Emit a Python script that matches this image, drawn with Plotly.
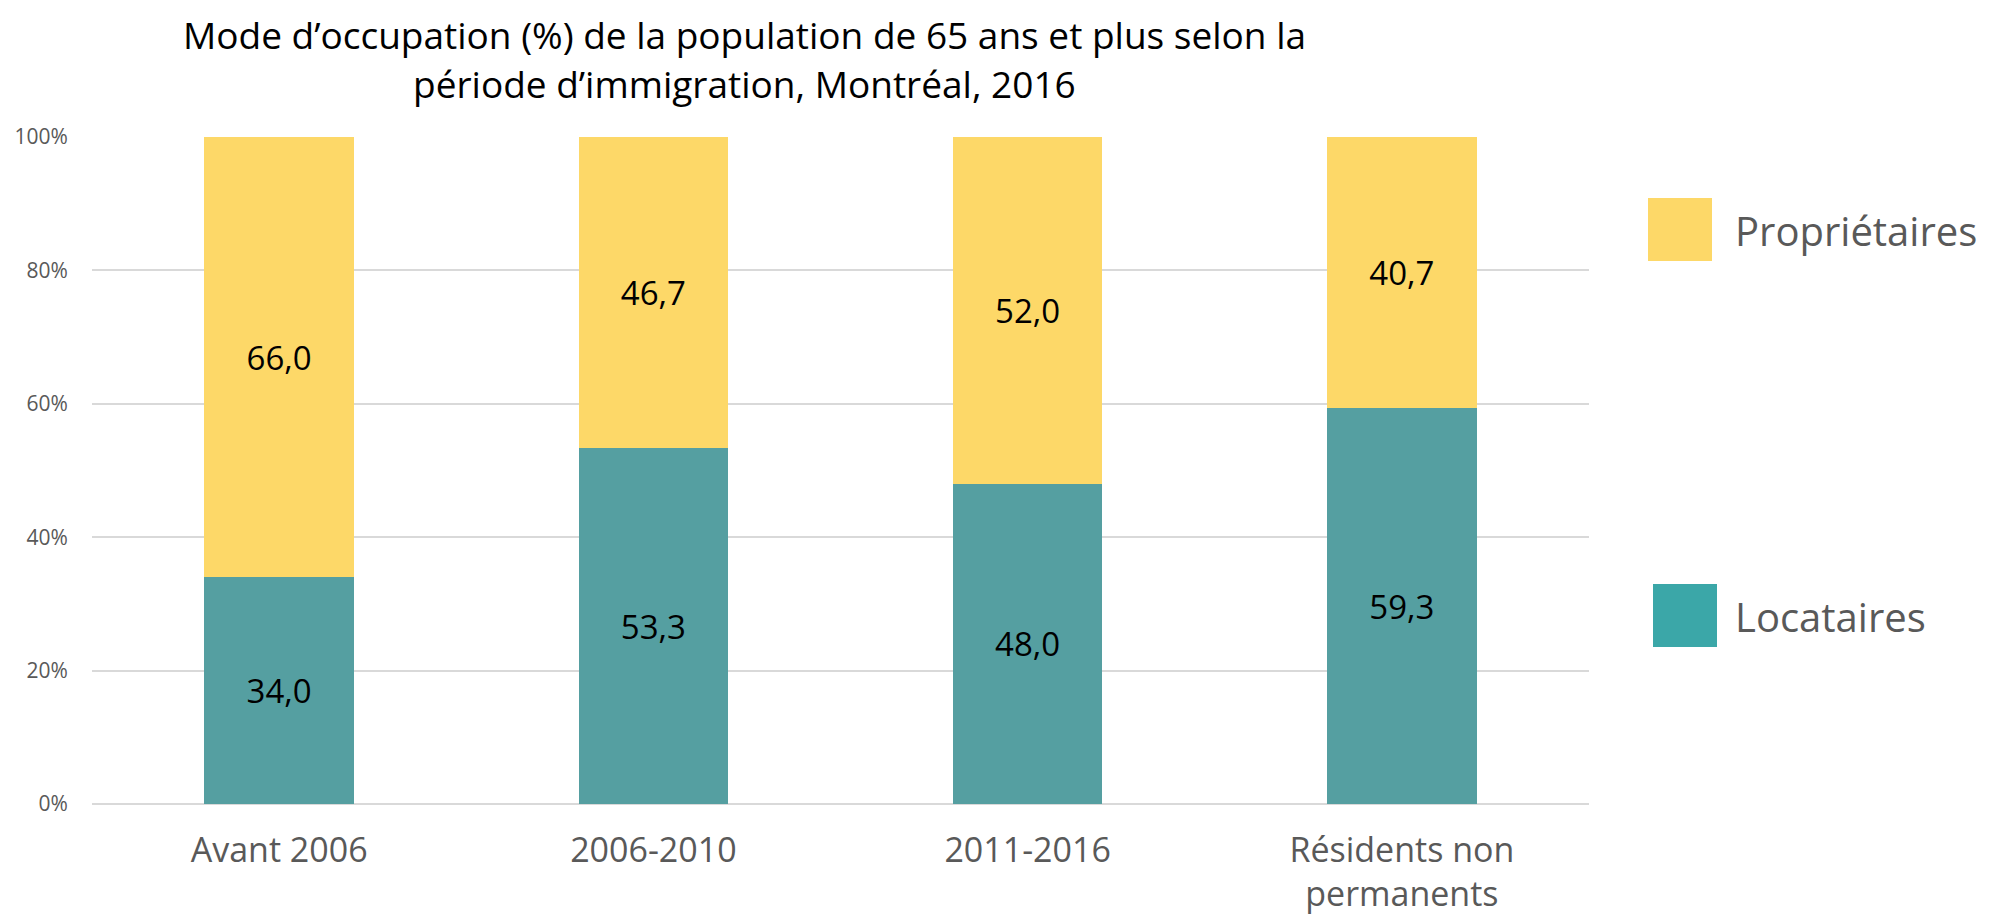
import plotly.graph_objects as go

categories = ["Avant 2006", "2006-2010", "2011-2016", "Résidents non<br>permanents"]
locataires = [34.0, 53.3, 48.0, 59.3]
proprietaires = [66.0, 46.7, 52.0, 40.7]
tick_vals = [0, 20, 40, 60, 80, 100]
tick_text = ["0%", "20%", "40%", "60%", "80%", "100%"]

# page body has an 8px margin: figure coordinates = screen coordinates - 8
OFF = 8
W, H = 1977, 908
ML = 92 - OFF
MT = 137 - OFF
MR = W - (1589 - OFF)
MB = H - (804 - OFF)
PW, PH = W - ML - MR, H - MT - MB


def px(xs):  # screen x -> paper
    return (xs - OFF - ML) / PW


def py(ys):  # screen y -> paper
    return 1 - (ys - OFF - MT) / PH


FONT = "Open Sans"
GREY = "#595959"

fig = go.Figure()
fig.add_trace(go.Bar(
    x=categories, y=locataires, name="Locataires",
    marker=dict(color="#559FA1", line=dict(width=0)),
    text=[f"{v:.1f}".replace(".", ",") for v in locataires],
    textposition="inside", insidetextanchor="middle",
    textfont=dict(family=FONT, size=33, color="#000000"),
    showlegend=False,
))
fig.add_trace(go.Bar(
    x=categories, y=proprietaires, name="Propriétaires",
    marker=dict(color="#FDD868", line=dict(width=0)),
    text=[f"{v:.1f}".replace(".", ",") for v in proprietaires],
    textposition="inside", insidetextanchor="middle",
    textfont=dict(family=FONT, size=33, color="#000000"),
    showlegend=False,
))

shapes = []
annotations = []
legend_items = [("Propriétaires", "#FDD868", 1648, 198), ("Locataires", "#3BA7A8", 1653, 584)]
for name, col, x0, y0 in legend_items:
    shapes.append(dict(type="rect", xref="paper", yref="paper",
                       x0=px(x0), x1=px(x0 + 64), y0=py(y0 + 63), y1=py(y0),
                       fillcolor=col, line=dict(width=0)))
    annotations.append(dict(text=name, xref="paper", yref="paper",
                            x=px(1733), y=py(y0 + 32), xanchor="left", yanchor="middle",
                            showarrow=False, font=dict(family=FONT, size=40, color=GREY)))

title_lines = ["Mode d’occupation (%) de la population de 65 ans et plus selon la",
               "période d’immigration, Montréal, 2016"]
for line, ytop in zip(title_lines, [8, 57]):
    annotations.append(dict(text=line, xref="paper", yref="paper",
                            x=px(744), y=py(ytop), xanchor="center", yanchor="top",
                            borderpad=0,
                            showarrow=False, font=dict(family=FONT, size=37, color="#000000")))

fig.update_layout(
    width=W, height=H,
    margin=dict(l=ML, r=MR, t=MT, b=MB, pad=0, autoexpand=False),
    barmode="stack", bargap=0.6,
    plot_bgcolor="white", paper_bgcolor="white",
    font=dict(family=FONT, color=GREY),
    shapes=shapes, annotations=annotations,
    showlegend=False,
    xaxis=dict(showgrid=False, showline=False, zeroline=False, automargin=False,
               ticks="outside", ticklen=16, tickcolor="rgba(0,0,0,0)",
               tickfont=dict(family=FONT, size=34, color=GREY)),
    yaxis=dict(range=[0, 100], tickvals=tick_vals, ticktext=tick_text, automargin=False,
               showgrid=True, gridcolor="#D9D9D9", gridwidth=1.5,
               zeroline=True, zerolinecolor="#D9D9D9", zerolinewidth=2,
               showline=False, ticks="outside", ticklen=19, tickcolor="rgba(0,0,0,0)",
               tickfont=dict(family=FONT, size=21, color=GREY)),
)

fig.write_html("out.html")
